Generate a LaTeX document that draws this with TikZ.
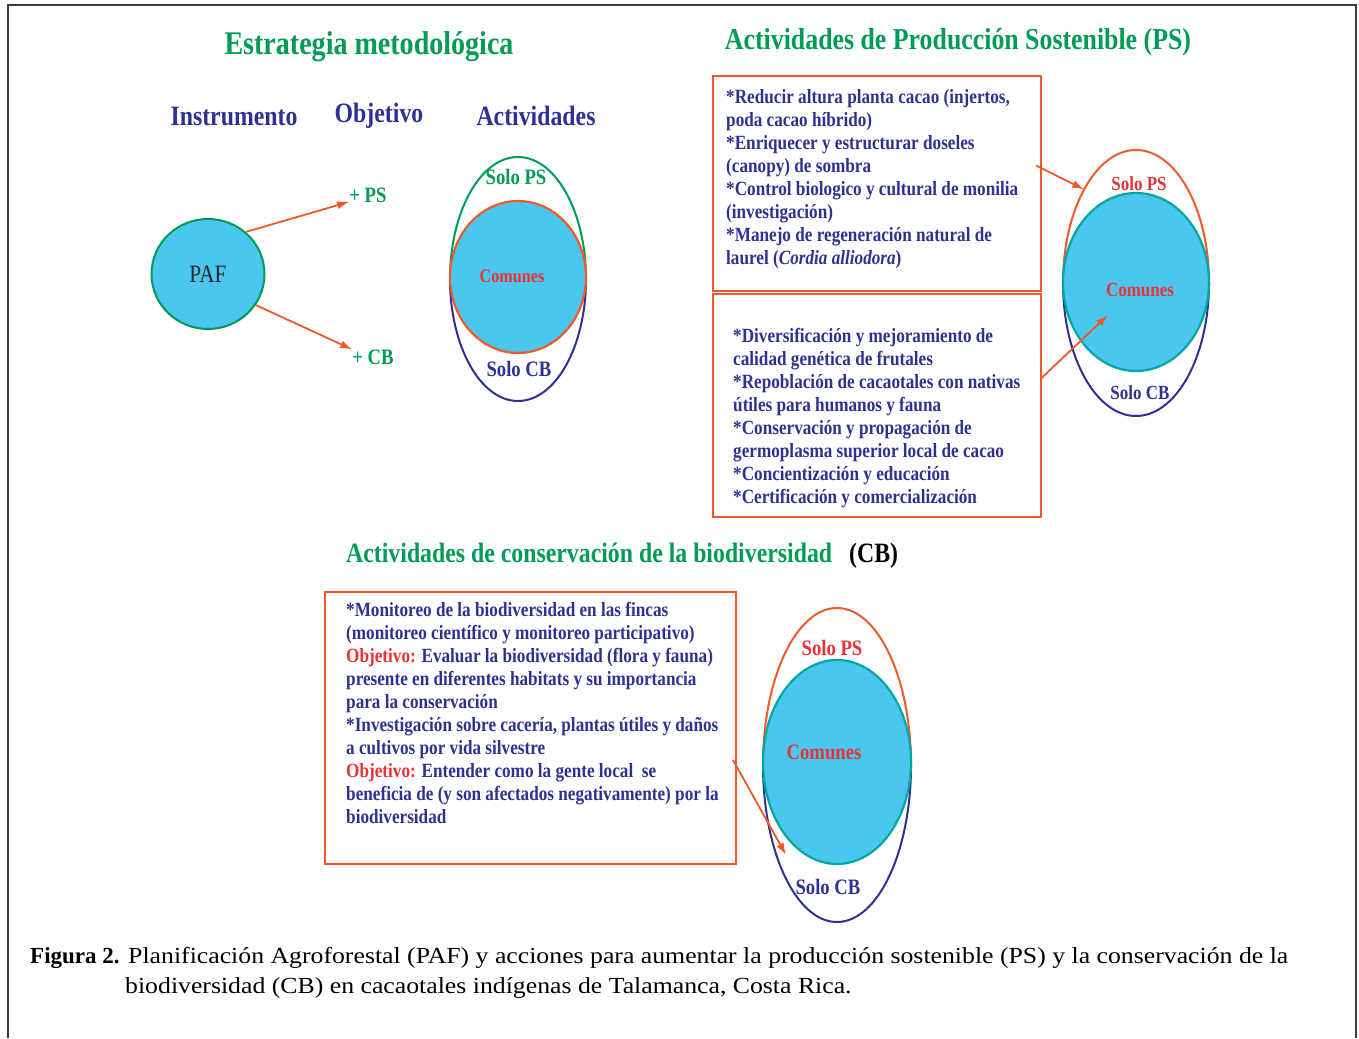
\documentclass[tikz,border=0pt]{standalone}
\usepackage{fontspec}
\setmainfont{Liberation Serif}
\newfontfamily\narrowfont[FakeStretch=0.85]{Liberation Serif}
\newfontfamily\widefont[FakeStretch=1.12]{Liberation Serif}
\usetikzlibrary{shapes.geometric, positioning, arrows.meta}
\definecolor{pafgreen}{RGB}{0,155,85}
\definecolor{pafblue}{RGB}{46,49,146}
\definecolor{pafred}{RGB}{232,50,55}
\definecolor{pafline}{RGB}{240,90,40}
\definecolor{paffill}{RGB}{75,198,238}
\definecolor{pafteal}{RGB}{0,168,160}
\definecolor{pafframe}{RGB}{60,60,60}
\tikzset{
	heading/.style={font=\narrowfont\bfseries\fontsize{30.4}{36}\selectfont, text=pafgreen, inner sep=0pt, anchor=base},
	column/.style={font=\narrowfont\bfseries\fontsize{28}{34}\selectfont, text=pafblue, inner sep=0pt, anchor=base},
	itemtext/.style={font=\narrowfont\bfseries\fontsize{20.2}{23}\selectfont, text=pafblue, align=left, inner sep=0pt, anchor=north west},
	actbox/.style={draw=pafline, line width=1.2pt, rectangle, inner sep=0pt, outer sep=0pt},
	ring/.style={ellipse, inner sep=0pt, outer sep=0pt},
	core/.style={ellipse, inner sep=0pt, outer sep=0pt, fill=paffill, line width=2.2pt},
	setlabel/.style={font=\narrowfont\bfseries\fontsize{22}{26}\selectfont, inner sep=0pt},
	% caption lines under the frame
	capline/.style={font=\widefont\fontsize{23}{30}\selectfont, inner sep=0pt, anchor=base west},
}

\begin{document}
\begin{tikzpicture}[x=1pt, y=1pt]
	\useasboundingbox (0,0) rectangle (1359,-1038);
	\draw[pafframe, line width=1.5pt] (8,-1038) -- (8,-5) -- (1356,-5) -- (1356,-1038);
	
	% left part: strategy
	\node (estr) [heading, font=\narrowfont\bfseries\fontsize{33}{38}\selectfont] at (369,-55) {Estrategia metodológica};
	\node (instr) [column] at (234,-125) {Instrumento};
	\node (obj) [column] at (379,-122) {Objetivo};
	\node (act) [column] at (536,-126) {Actividades};
	
	\node (paf) [ellipse, draw=pafgreen, fill=paffill, line width=2pt, minimum width=113pt, minimum height=110pt, inner sep=0pt,
		font=\narrowfont\fontsize{25}{28}\selectfont, text={black!85}] at (208,-274) {PAF};
	\node (ps) [setlabel, text=pafgreen] at (368,-195) {+ PS};
	\node (cb) [setlabel, text=pafgreen] at (373,-357) {+ CB};
	
	\node (vone) [ring, minimum width=136pt, minimum height=244pt] at (518,-279) {};
	\draw[pafgreen, line width=2pt] (vone.west) arc[start angle=180, end angle=0, x radius=68pt, y radius=122pt];
	\draw[pafblue, line width=2pt] (vone.west) arc[start angle=180, end angle=360, x radius=68pt, y radius=122pt];
	\node (cone) [core, draw=pafline, minimum width=136pt, minimum height=152pt] at (518,-277) {};
	\node (psone) [setlabel, text=pafgreen] at (516,-177) {Solo PS};
	\node (comone) [setlabel, text=pafred, font=\narrowfont\bfseries\fontsize{19}{22}\selectfont] at (512,-276) {Comunes};
	\node (cbone) [setlabel, text=pafblue] at (519,-369) {Solo CB};
	
	% right part: production
	\node (prodtitle) [heading] at (958,-50) {Actividades de Producción Sostenible (PS)};
	\node (psboxa) [actbox, minimum width=328pt, minimum height=215pt] at (877,-183.5) {};
	\node (psboxb) [actbox, minimum width=328pt, minimum height=223pt] at (877,-405.5) {};
	\node (pstexta) [itemtext] at (726,-89.5) {*Reducir altura planta cacao (injertos,\\
		poda cacao híbrido)\\
		*Enriquecer y estructurar doseles\\
		(canopy) de sombra\\
		*Control biologico y cultural de monilia\\
		(investigación)\\
		*Manejo de regeneración natural de\\
		laurel (\textit{Cordia alliodora})};
	\node (pstextb) [itemtext] at (733,-328.5) {*Diversificación y mejoramiento de\\
		calidad genética de frutales\\
		*Repoblación de cacaotales con nativas\\
		útiles para humanos y fauna\\
		*Conservación y propagación de\\
		germoplasma superior local de cacao\\
		*Concientización y educación\\
		*Certificación y comercialización};
	
	\node (vtwo) [ring, minimum width=146pt, minimum height=266pt] at (1136,-283) {};
	\draw[pafline, line width=2pt] (vtwo.west) arc[start angle=180, end angle=0, x radius=73pt, y radius=133pt];
	\draw[pafblue, line width=2pt] (vtwo.west) arc[start angle=180, end angle=360, x radius=73pt, y radius=133pt];
	\node (ctwo) [core, draw=pafteal, minimum width=146pt, minimum height=178pt] at (1136,-282) {};
	\node (pstwo) [setlabel, text=pafred, font=\narrowfont\bfseries\fontsize{20}{24}\selectfont] at (1139,-184) {Solo PS};
	\node (comtwo) [setlabel, text=pafred, font=\narrowfont\bfseries\fontsize{20}{24}\selectfont] at (1140,-290) {Comunes};
	\node (cbtwo) [setlabel, text=pafblue, font=\narrowfont\bfseries\fontsize{20}{24}\selectfont] at (1140,-393) {Solo CB};
	\coordinate (comtip) at (1108,-315);
	
	% bottom part: conservation
	\node (constitle) [heading, anchor=base west, font=\narrowfont\bfseries\fontsize{28}{34}\selectfont] at (346,-562) {Actividades de conservación de la biodiversidad};
	\node (constag) [heading, anchor=base west, text=black, font=\narrowfont\bfseries\fontsize{28}{34}\selectfont] at (849,-562) {(CB)};
	\node (cbbox) [actbox, minimum width=411pt, minimum height=272pt] at (530.5,-728) {};
	\node (cbtext) [itemtext] at (346,-602) {*Monitoreo de la biodiversidad en las fincas\\
		(monitoreo científico y monitoreo participativo)\\
		\textcolor{pafred}{Objetivo:} Evaluar la biodiversidad (flora y fauna)\\
		presente en diferentes habitats y su importancia\\
		para la conservación\\
		*Investigación sobre cacería, plantas útiles y daños\\
		a cultivos por vida silvestre\\
		\textcolor{pafred}{Objetivo:} Entender como la gente local\ \ se\\
		beneficia de (y son afectados negativamente) por la\\
		biodiversidad};
	
	\node (vthree) [ring, minimum width=148pt, minimum height=314pt] at (837,-765) {};
	\draw[pafline, line width=2pt] (vthree.west) arc[start angle=180, end angle=0, x radius=74pt, y radius=157pt];
	\draw[pafblue, line width=2pt] (vthree.west) arc[start angle=180, end angle=360, x radius=74pt, y radius=157pt];
	\node (cthree) [core, draw=pafteal, minimum width=148pt, minimum height=204pt] at (837,-762) {};
	\node (psthree) [setlabel, text=pafred] at (832,-648) {Solo PS};
	\node (comthree) [setlabel, text=pafred] at (824,-752) {Comunes};
	\node (cbthree) [setlabel, text=pafblue] at (828,-887) {Solo CB};
	\coordinate (cbtip) at (786,-855);
	
	\begin{scope}[pafline, line width=1.8pt, ->, >={Latex[length=12pt, width=8pt]}]
		\draw (paf.48) -- (ps.200);
		\draw (paf.-33) -- (cb.north west);
		\draw ([xshift=-5pt, yshift=18pt]psboxa.east) -- (vtwo.119);
		\draw ([yshift=27pt]psboxb.east) -- (comtip);
		\draw ([xshift=-3pt, yshift=-32pt]cbbox.east) -- (cbtip);
	\end{scope}
	
	\node (capa) [capline] at (30,-963) {{\rmfamily\bfseries Figura 2.} Planificación Agroforestal (PAF) y acciones para aumentar la producción sostenible (PS) y la conservación de la};
	\node (capb) [capline] at (125,-993) {biodiversidad (CB) en cacaotales indígenas de Talamanca, Costa Rica.};
\end{tikzpicture}
\end{document}
